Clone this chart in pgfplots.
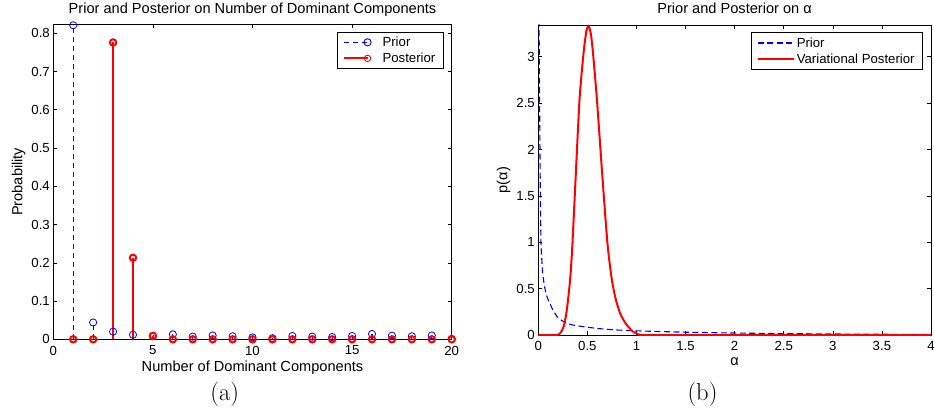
\documentclass[border=0pt]{standalone}
\usepackage{pgfplots}
\pgfplotsset{compat=1.18}
\usepackage{fontspec}
\newfontfamily\helv{Liberation Sans}
\newcommand\tickfont{\helv\fontsize{13.2}{15}\selectfont}
\newcommand\labfont{\helv\fontsize{14.6}{17}\selectfont}

\pgfplotsset{mystyle/.style={
  scale only axis,
  axis line style={line width=0.8pt},
  tick style={line width=0.6pt, black},
  major tick length=4pt,
  tick align=inside,
  /pgf/number format/assume math mode=true,
  ticklabel style={font=\tickfont},
  xticklabel style={yshift=-3pt},
  label style={font=\labfont},
  legend style={font=\tickfont, at={([xshift=-8.5pt,yshift=-7.4pt]axis description cs:1,1)}, anchor=north east,
    inner xsep=5.5pt, inner ysep=2.2pt, nodes={inner sep=2pt,text height=10.2pt,text depth=1.9pt},
    line width=0.7pt, draw=black},
  legend cell align=left,
},
stemlegend/.style={legend image code/.code={
    \draw[##1, sharp plot, mark=none] (0pt,0pt) -- (24pt,0pt);
    \draw[##1, only marks, mark options={solid, line width=0.9pt}] plot coordinates {(24pt,0pt)};
    \path (36pt,0pt);
  }},
linelegend/.style={legend image code/.code={\draw[##1] (0pt,0pt) -- (36pt,0pt);}},
}

\begin{document}
\begin{tikzpicture}
\useasboundingbox (0pt,0pt) rectangle (934pt,408pt);

% ---------------- (a) ----------------
\begin{axis}[mystyle,
  at={(53.3pt,68.7pt)}, anchor=south west,
  width=398.4pt, height=315pt,
  xmin=0, xmax=20, ymin=0, ymax=0.8235,
  xtick={0,5,10,15,20},
  ytick={0,0.1,0.2,0.3,0.4,0.5,0.6,0.7,0.8},
  xlabel={Number of Dominant Components},
  ylabel={Probability},
  xlabel style={at={([yshift=-32.4pt]axis description cs:0.5,0)}, anchor=base},
  ylabel style={at={([xshift=-31pt]axis description cs:0,0.5)}, anchor=base},
  clip marker paths=false,
]
\addplot[ycomb, color=blue, line width=1.2pt, dash pattern=on 5pt off 4pt,
  mark=o, mark size=3.6pt, mark options={solid, line width=0.8pt}, stemlegend]
coordinates {
(1,0.821) (2,0.044) (3,0.020) (4,0.012) (5,0.008) (6,0.013) (7,0.007)
(8,0.010) (9,0.008) (10,0.005) (11,0.003) (12,0.0087) (13,0.007) (14,0.006)
(15,0.0087) (16,0.014) (17,0.0095) (18,0.008) (19,0.010) (20,0.001)
};
\addlegendentry{Prior}
\addplot[ycomb, color=red, line width=2pt,
  mark=o, mark size=3.2pt, mark options={solid, line width=2pt}, stemlegend]
coordinates {
(1,0) (2,0) (3,0.776) (4,0.213) (5,0.009) (6,0) (7,0) (8,0) (9,0) (10,0)
(11,0) (12,0) (13,0) (14,0) (15,0) (16,0) (17,0) (18,0) (19,0) (20,0)
};
\addlegendentry{Posterior}
\end{axis}

% ---------------- (b) ----------------
\begin{axis}[mystyle,
  at={(538.3pt,73pt)}, anchor=south west,
  width=392.7pt, height=310pt,
  xmin=0, xmax=4, ymin=0, ymax=3.342,
  xtick={0,0.5,1,1.5,2,2.5,3,3.5,4},
  ytick={0,0.5,1,1.5,2,2.5,3},
  xlabel={α},
  ylabel={p(α)},
  xlabel style={at={([yshift=-30.7pt]axis description cs:0.5,0)}, anchor=base},
  ylabel style={at={([xshift=-31pt]axis description cs:0,0.5)}, anchor=base},
]
\addplot[color=blue, line width=1.1pt, dash pattern=on 6pt off 3.5pt, linelegend]
coordinates {
(0.002,3.8) (0.006,3.5) (0.008,3.35) (0.010,3.0) (0.012,2.7) (0.014,2.4)
(0.017,2.0) (0.020,1.62) (0.023,1.3) (0.027,1.0) (0.031,0.9) (0.035,0.82)
(0.045,0.66) (0.06,0.54) (0.08,0.44) (0.10,0.38) (0.122,0.33) (0.15,0.265)
(0.19,0.20) (0.24,0.155) (0.29,0.125) (0.35,0.108) (0.46,0.09) (0.6,0.07)
(0.8,0.054) (1.0,0.045) (1.25,0.037) (1.5,0.030) (2.0,0.021) (2.5,0.015)
(3.0,0.011) (3.5,0.008) (4.0,0.006)
};
\addlegendentry{Prior}
\addplot[color=red, line width=2pt, smooth, tension=0.4, linelegend]
coordinates {
(0,0) (0.10,0) (0.18,0) (0.207,0.005) (0.23,0.03) (0.258,0.09) (0.285,0.23)
(0.305,0.40) (0.326,0.62) (0.346,0.95) (0.38,1.69) (0.42,2.54) (0.461,3.04)
(0.49,3.28) (0.512,3.33) (0.535,3.25) (0.557,3.04) (0.597,2.54) (0.654,1.69)
(0.705,0.98) (0.75,0.59) (0.79,0.38) (0.835,0.23) (0.88,0.14) (0.92,0.085)
(0.96,0.04) (1.0,0.015) (1.03,0.004) (1.07,0) (1.5,0) (2,0) (3,0) (4,0)
};
\addlegendentry{Variational Posterior}
\end{axis}

\node[font=\labfont, anchor=base] at (252.5pt,394pt) {Prior and Posterior on Number of Dominant Components};
\node[font=\labfont, anchor=base] at (734.6pt,394pt) {Prior and Posterior on α};
\node[font=\fontsize{24.5}{28}\selectfont, anchor=base] at (224.7pt,7.5pt) {(a)};
\node[font=\fontsize{24.5}{28}\selectfont, anchor=base] at (702.5pt,7.5pt) {(b)};
\end{tikzpicture}
\end{document}
